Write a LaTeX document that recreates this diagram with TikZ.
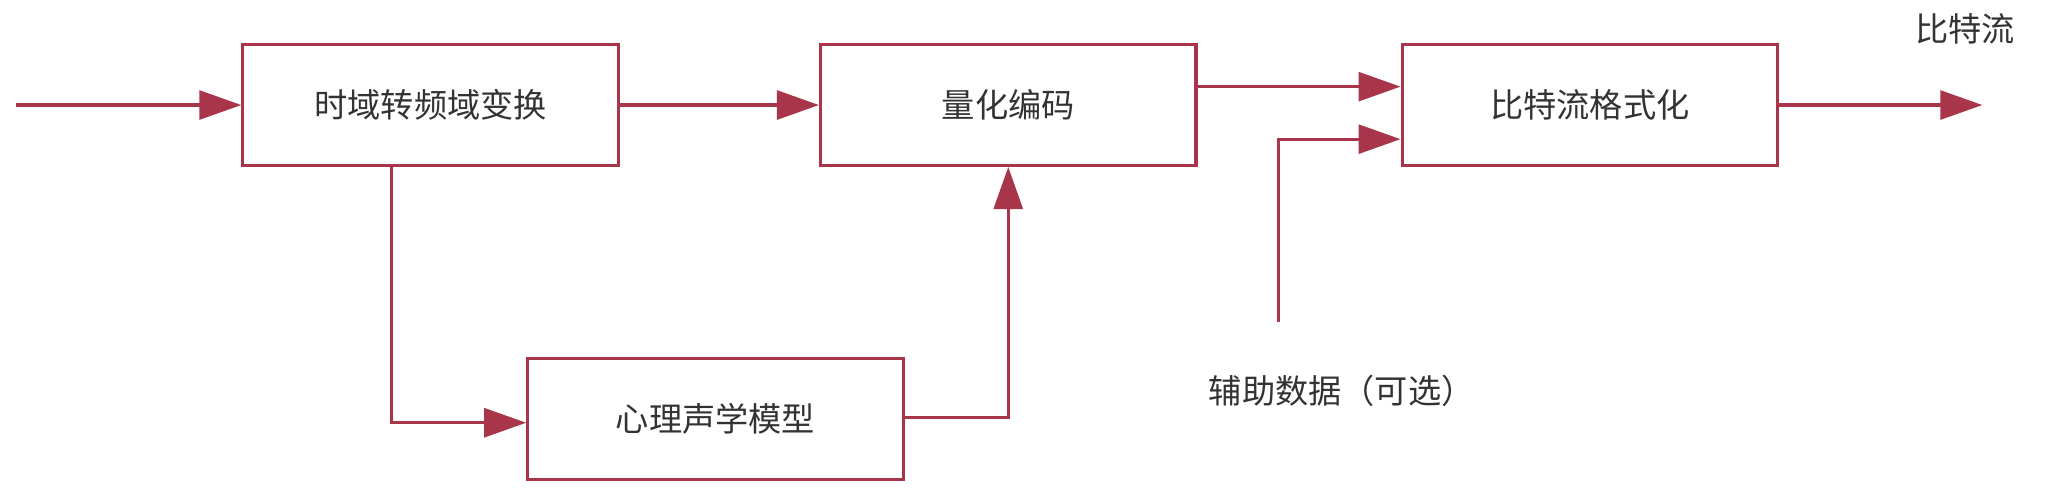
\documentclass[tikz,border=0pt]{standalone}
\usepackage{fontspec}
\newfontfamily\cjk{Noto Sans CJK SC}
\usetikzlibrary{arrows.meta}
\definecolor{lc}{HTML}{A8354A}
\definecolor{tc}{HTML}{333333}
\begin{document}
\begin{tikzpicture}[x=0.05cm,y=-0.05cm,
  blk/.style={draw=lc,line width=1.2mm,minimum width=14.3cm,minimum height=4.6cm,inner sep=0,font=\cjk\fontsize{36}{42}\selectfont,text=tc},
  con/.style={draw=lc,line width=1.2mm,-{Triangle[length=1.6cm,width=1.1cm]}},
  lab/.style={font=\cjk\fontsize{36}{42}\selectfont,text=tc}]
\useasboundingbox (0,0) rectangle (1560,382);
\node[blk] (b1) at (328,80) {时域转频域变换};
\node[blk] (b2) at (768,80) {量化编码};
\node[blk] (b3) at (1211,80) {比特流格式化};
\node[blk] (b4) at (545,319) {心理声学模型};
\coordinate (in) at (12,80);
\coordinate (out) at (1510,80);
\coordinate (aux) at (974,245);
\node[lab] (l1) at (1497,22) {比特流};
\node[lab] (l2) at (1022,298) {辅助数据（可选）};
\draw[con] (in) -- (b1);
\draw[con] (b1) -- (b2);
\draw[con] (b2.east |- 0,66) -- (b3.west |- 0,66);
\draw[con] (aux) |- (b3.west |- 0,106);
\draw[con] (b3) -- (out);
\draw[con] (b1.south -| 298,0) |- (b4.west |- 0,322);
\draw[con] (b4.east |- 0,318) -| (b2.south -| 768,0);
\end{tikzpicture}
\end{document}
